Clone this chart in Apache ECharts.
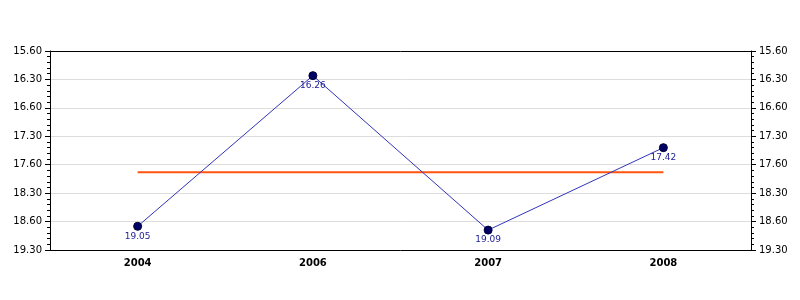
<!DOCTYPE html>
<html><head><meta charset="utf-8">
<script src="https://cdn.jsdelivr.net/npm/echarts@6/dist/echarts.min.js"></script>
<style>html,body{margin:0;padding:0;background:#fff}#c{width:800px;height:300px}</style>
</head><body><div id="c"></div>
<script>
// Data (times written as minutes.seconds)
var categories = ['2004', '2006', '2007', '2008'];
var timesMSS = [19.05, 16.26, 19.09, 17.42];
var averageMSS = 18.08;
var tickLabels = ['15.60', '16.30', '16.60', '17.30', '17.60', '18.30', '18.60', '19.30'];
var axisMin = 16, axisMax = 19.5, axisStep = 0.5;

function toMinutes(mss) {
  var m = Math.floor(mss);
  var s = Math.round((mss - m) * 100);
  return m + s / 60;
}
var values = timesMSS.map(function (v) { return { value: toMinutes(v), label: v.toFixed(2) }; });
var avgValues = categories.map(function () { return toMinutes(averageMSS); });

function fmt(v) {
  var i = Math.round((v - axisMin) / axisStep);
  return tickLabels[i] !== undefined ? tickLabels[i] : '';
}

function yAxisCfg(pos) {
  return {
    type: 'value', position: pos, inverse: true,
    min: axisMin, max: axisMax, interval: axisStep,
    axisLine: { show: true, lineStyle: { color: '#000', width: 1 } },
    axisTick: { show: true, length: 5, lineStyle: { color: '#000' } },
    minorTick: { show: true, splitNumber: 5, length: 3, lineStyle: { color: '#000' } },
    axisLabel: { formatter: fmt, color: '#000', fontFamily: 'DejaVu Sans', fontSize: 10, margin: 8 },
    splitLine: { show: pos === 'left', lineStyle: { color: '#dddddd', width: 1 } }
  };
}

var chart = echarts.init(document.getElementById('c'), null, { renderer: 'canvas' });
chart.setOption({
  animation: false,
  backgroundColor: '#fff',
  grid: { left: 50, right: 49, top: 51, bottom: 50, show: false },
  xAxis: [{
    type: 'category', data: categories, boundaryGap: true,
    axisLine: { lineStyle: { color: '#000' } },
    axisTick: { alignWithLabel: true, length: 4, lineStyle: { color: '#000' } },
    axisLabel: { color: '#000', fontFamily: 'DejaVu Sans', fontSize: 10, fontWeight: 'bold', margin: 8 },
    z: 5
  }, {
    type: 'category', data: categories, position: 'top',
    axisLine: { lineStyle: { color: '#000' } },
    axisTick: { show: false }, axisLabel: { show: false },
    z: 5
  }],
  yAxis: [yAxisCfg('left'), yAxisCfg('right')],
  series: [
    {
      type: 'line', yAxisIndex: 0, data: avgValues, showSymbol: false, symbol: 'none',
      lineStyle: { color: '#ff5511', width: 2 }, z: 2
    },
    {
      type: 'line', yAxisIndex: 0, data: values,
      symbol: 'circle', symbolSize: 8,
      itemStyle: { color: '#000066', borderColor: '#000033', borderWidth: 1 },
      lineStyle: { color: '#3333bb', width: 1 },
      label: {
        show: true, position: 'bottom', distance: 1,
        formatter: function (p) { return p.data.label; },
        color: '#22229a', fontFamily: 'DejaVu Sans', fontSize: 9
      },
      z: 3
    }
  ]
});
</script>
</body></html>
